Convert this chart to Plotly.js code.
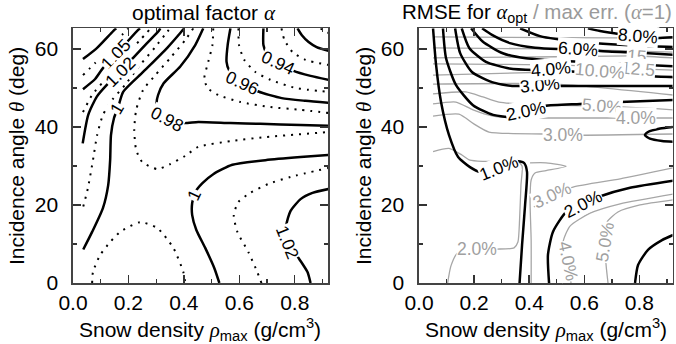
<!DOCTYPE html>
<html><head><meta charset="utf-8">
<script src="https://cdn.plot.ly/plotly-3.0.1.min.js"></script>
<style>html,body{margin:0;padding:0;background:#fff}</style>
</head><body><div id="c" style="width:676px;height:344px"></div>
<script>
// ---------- LEFT PANEL: optimal factor alpha (contour lines, [rho, theta]) ----------
const aS110 = [[0.036,57.4],[0.087,60.3],[0.145,64.6],[0.156,65.3]];
const aD107 = [[0.036,53.3],[0.080,56.4],[0.127,59.7],[0.177,63.6],[0.199,65.3]];
const aS105 = [[0.036,49.7],[0.080,52.3],[0.108,55.1],[0.156,58.6],[0.199,62.1],[0.235,64.9],[0.242,65.3]];
const aD103 = [[0.036,43.8],[0.069,48.2],[0.108,51.5],[0.152,54.9],[0.199,59.0],[0.242,62.3],[0.278,65.1]];
const aS102 = [[0.035,35.8],[0.055,43.1],[0.086,47.8],[0.122,50.8],[0.170,54.2],[0.218,57.8],[0.267,61.5],[0.309,64.6],[0.315,65.3]];
const aD101 = [[0.037,19.6],[0.054,24.4],[0.072,31.5],[0.087,37.9],[0.108,43.1],[0.141,46.9],[0.188,50.8],[0.242,55.9],[0.297,60.5],[0.340,64.4],[0.351,65.3]];
const aS100 = [[0.037,8.6],[0.069,13.1],[0.108,19.2],[0.127,25.1],[0.134,31.5],[0.137,37.9],[0.148,42.3],[0.163,45.1],[0.181,49.0],[0.253,54.1],[0.340,60.3],[0.387,64.1],[0.401,65.3]];
const aD099 = [[0.434,65.3],[0.405,62.3],[0.351,57.7],[0.297,53.3],[0.253,49.5],[0.228,44.4],[0.221,39.2],[0.228,34.1],[0.250,31.0],[0.304,29.2],[0.351,30.5],[0.405,32.6],[0.452,34.9],[0.571,36.4],[0.694,37.4],[0.922,38.7]];
const aS098 = [[0.470,65.3],[0.441,61.0],[0.387,55.5],[0.327,51.2],[0.307,48.2],[0.302,46.1],[0.322,43.6],[0.351,42.1],[0.398,41.0],[0.452,41.3],[0.568,41.0],[0.676,40.8],[0.821,40.5],[0.922,40.3]];
const aD097 = [[0.506,65.3],[0.503,61.0],[0.488,56.7],[0.474,52.6],[0.485,50.0],[0.524,48.2],[0.604,46.4],[0.712,45.1],[0.821,44.4],[0.922,43.6]];
const aS096 = [[0.568,65.3],[0.558,61.0],[0.554,56.7],[0.563,54.6],[0.608,51.5],[0.669,49.1],[0.753,47.4],[0.839,46.7],[0.922,46.2]];
const aD095 = [[0.597,65.3],[0.599,61.0],[0.618,57.2],[0.658,54.1],[0.712,52.1],[0.803,50.0],[0.922,49.0]];
const aS094 = [[0.687,65.3],[0.687,61.0],[0.698,59.0],[0.741,56.7],[0.796,54.4],[0.857,53.1],[0.922,52.1]];
const aD093 = [[0.752,65.3],[0.763,62.3],[0.792,59.2],[0.839,57.2],[0.922,55.9]];
const aS092 = [[0.810,65.3],[0.825,63.6],[0.850,61.8],[0.879,60.5],[0.922,59.5]];
const aD091 = [[0.893,65.3],[0.922,64.1]];
const aD099low = [[0.069,0],[0.072,2.8],[0.098,7.2],[0.134,10.5],[0.170,13.1],[0.242,15.6],[0.304,14.1],[0.362,9.0],[0.398,2.8],[0.405,0]];
const aS100r = [[0.528,0],[0.510,3.8],[0.477,9.0],[0.445,13.6],[0.430,17.4],[0.430,20.5],[0.441,23.3],[0.467,25.6],[0.506,27.9],[0.575,30.3],[0.694,31.5],[0.821,32.3],[0.922,32.8]];
const aD101r = [[0.680,0],[0.665,2.8],[0.633,7.9],[0.593,13.1],[0.580,17.4],[0.597,20.8],[0.640,23.1],[0.705,25.4],[0.785,27.2],[0.922,29.5]];
const aS102r = [[0.857,0],[0.846,2.8],[0.814,6.4],[0.778,10.5],[0.770,14.9],[0.785,18.5],[0.821,21.5],[0.864,23.1],[0.922,24.1]];
// labels: [text, rho, theta, angle]
const aLabels = [["1.05",0.156,58.6,-47],["1.02",0.170,54.2,-45],["1",0.160,44.8,-60],["0.98",0.338,42.0,28],
  ["0.96",0.610,51.2,25],["0.94",0.741,56.4,25],["1",0.437,22.6,-65],["1.02",0.774,10.6,68]];

// ---------- RIGHT PANEL: RMSE for alpha_opt (black) / max err alpha=1 (gray) ----------
const r1 = [[0.051,65.3],[0.062,55.9],[0.080,46.4],[0.109,37.9],[0.142,32.3],[0.185,29.7],[0.221,28.5],[0.290,29.5],[0.352,31.3],[0.381,30.8],[0.392,28.5],[0.385,20.0],[0.374,9.7],[0.365,0]];
const r2 = [[0.087,65.3],[0.098,57.7],[0.134,50.8],[0.196,45.6],[0.269,43.1],[0.338,42.6],[0.388,44.1],[0.457,45.4],[0.584,45.9],[0.730,46.4],[0.922,46.9]];
const r3 = [[0.131,65.3],[0.149,59.0],[0.192,54.1],[0.265,51.5],[0.338,50.5],[0.439,50.8],[0.530,50.5],[0.730,50.5],[0.922,50.5]];
const r4 = [[0.155,65.3],[0.183,60.2],[0.243,56.7],[0.328,55.0],[0.419,54.6],[0.494,54.6],[0.574,54.1],[0.701,53.3],[0.922,52.8]];
const r5 = [[0.189,65.3],[0.231,61.9],[0.304,58.9],[0.388,57.6],[0.461,57.2],[0.584,56.7],[0.730,56.2],[0.922,55.6]];
const r6 = [[0.229,65.3],[0.265,63.6],[0.330,61.5],[0.421,60.3],[0.505,60.0],[0.577,60.0],[0.657,59.5],[0.802,59.0],[0.922,58.5]];
const r7 = [[0.367,65.3],[0.439,63.3],[0.584,61.8],[0.802,60.8],[0.922,60.5]];
const r8 = [[0.613,65.3],[0.657,64.6],[0.730,63.8],[0.795,63.3],[0.860,62.8],[0.922,63.0]];
const rLoop = [[0.922,40.0],[0.875,39.6],[0.831,38.7],[0.820,37.9],[0.838,37.0],[0.882,36.4],[0.922,36.2]];
const r2low = [[0.472,0],[0.468,7.2],[0.486,13.1],[0.534,18.2],[0.595,20.3],[0.653,22.1],[0.766,24.4],[0.922,26.2]];
const r3low = [[0.784,0],[0.795,4.6],[0.831,8.5],[0.882,11.0],[0.922,12.3]];
const g20 = [[0.051,63.1],[0.5,62.9],[0.922,62.8]];
const g17 = [[0.051,60.3],[0.5,60.0],[0.922,59.2]];
const g15 = [[0.051,57.7],[0.5,58.0],[0.788,58.2],[0.922,57.7]];
const g12 = [[0.051,56.2],[0.5,55.9],[0.795,54.9],[0.922,54.6]];
const g10 = [[0.051,53.3],[0.5,54.1],[0.657,54.4],[0.802,53.3],[0.922,52.6]];
const g7 = [[0.051,51.0],[0.5,51.0],[0.922,48.2]];
const g5 = [[0.051,48.5],[0.170,49.0],[0.232,47.7],[0.290,46.4],[0.461,45.6],[0.664,45.4],[0.922,44.4]];
const g4 = [[0.051,45.9],[0.134,46.4],[0.196,44.4],[0.269,42.8],[0.352,42.3],[0.461,42.3],[0.788,42.3],[0.922,42.3]];
const g3 = [[0.051,42.8],[0.145,43.3],[0.199,40.8],[0.254,38.7],[0.461,38.2],[0.523,37.9],[0.922,38.2]];
const g2 = [[0.051,33.7],[0.109,34.5],[0.156,32.8],[0.185,31.5],[0.232,31.2],[0.356,31.2],[0.374,30.0],[0.370,25.1],[0.365,16.2],[0.359,10.5],[0.345,9.0],[0.283,8.7],[0.211,8.7],[0.142,7.9],[0.116,4.4],[0.104,0]];
const gLoop = [[0.407,0],[0.407,11.0],[0.403,21.3],[0.407,26.4],[0.421,28.2],[0.461,28.8],[0.534,29.9],[0.461,30.8],[0.403,30.8]];
const g3low = [[0.417,19.5],[0.483,22.6],[0.559,24.6],[0.730,26.7],[0.922,29.5]];
const g4low = [[0.552,0],[0.541,3.3],[0.534,6.2],[0.523,10.5],[0.548,14.6],[0.621,17.9],[0.730,20.3],[0.922,22.8]];
const g5low = [[0.686,0],[0.679,4.6],[0.675,10.5],[0.682,15.6],[0.722,18.2],[0.802,20.0],[0.922,21.3]];
const rLabels = [["1.0%",0.290,29.4,-22],["2.0%",0.388,44.1,-12],["3.0%",0.439,50.8,-5],["4.0%",0.480,54.8,-5],
  ["6.0%",0.577,60.0,4],["8.0%",0.795,63.3,5],["2.0%",0.595,20.3,-27]];
const gLabels = [["15",0.788,58.2,5],["12.5",0.795,54.9,5],["10.0%",0.657,54.4,5],["5.0%",0.664,45.4,5],
  ["4.0%",0.788,42.3,0],["3.0%",0.523,37.9,0],["3.0%",0.483,22.6,-25],["2.0%",0.211,8.7,0],["4.0%",0.541,5.6,78],["5.0%",0.675,10.5,-80]];
const xTicks = [0.0,0.2,0.4,0.6,0.8];
const xTickText = ["0.0","0.2","0.4","0.6","0.8"];
const yTicks = [0,20,40,60];

const FONT = "Liberation Sans, Arial, Helvetica, sans-serif";
const SOLID = {color:"#000", width:2.5};
const DOT = {color:"#000", width:2, dash:"2px,6px"};
const GRAY = {color:"#a6a6a6", width:1.3};
const traces = [];
function add(pts, line, right){
  traces.push({type:"scatter", mode:"lines", x:pts.map(p=>p[0]), y:pts.map(p=>p[1]),
    xaxis: right?"x2":"x", yaxis: right?"y2":"y", line:Object.assign({shape:"spline", smoothing:0.6}, line),
    hoverinfo:"skip", showlegend:false});
}
[aD107,aD103,aD101,aD099,aD097,aD095,aD093,aD091,aD099low,aD101r].forEach(p=>add(p,DOT,false));
[aS110,aS105,aS102,aS100,aS098,aS096,aS094,aS092,aS100r,aS102r].forEach(p=>add(p,SOLID,false));
[g20,g17,g15,g12,g10,g7,g5,g4,g3,g2,gLoop,g3low,g4low,g5low].forEach(p=>add(p,GRAY,true));
[r1,r2,r3,r4,r5,r6,r7,r8,rLoop,r2low,r3low].forEach(p=>add(p,SOLID,true));

const ann = [];
function lab(arr, right, color){
  arr.forEach(a=>ann.push({text:a[0], x:a[1], y:a[2], textangle:a[3], xref:right?"x2":"x", yref:right?"y2":"y",
    showarrow:false, font:{family:FONT, size:17.5, color:color}, bgcolor:"#fff", borderpad:0}));
}
lab(aLabels,false,"#000"); lab(gLabels,true,"#a0a0a0"); lab(rLabels,true,"#000");
const P = (px,py)=>({x:px/676, y:1-py/344});
function ptxt(text, px, py, angle, size){
  const p = P(px,py);
  ann.push({text:text, x:p.x, y:p.y, xref:"paper", yref:"paper", showarrow:false, textangle:angle||0,
    xanchor:"center", yanchor:"middle", font:{family:FONT, size:size||21, color:"#000"}});
}
const GA = '<span style="font-family:Liberation Serif,serif;font-style:italic">α</span>';
const TH = '<span style="font-family:Liberation Serif,serif;font-style:italic">θ</span>';
const RHO = '<span style="font-family:Liberation Serif,serif;font-style:italic">ρ</span>';
ptxt("optimal factor "+GA, 204, 13, 0, 21);
ptxt("RMSE for "+GA+"<sub>opt</sub><span style=\"color:#9a9a9a\"> / max err. ("+GA+"=1)</span>", 537, 13, 0, 20.5);
ptxt("Snow density "+RHO+"<sub>max</sub> (g/cm<sup>3</sup>)", 200, 329);
ptxt("Snow density "+RHO+"<sub>max</sub> (g/cm<sup>3</sup>)", 546, 329);
ptxt("Incidence angle "+TH+" (deg)", 17, 156, -90);
ptxt("Incidence angle "+TH+" (deg)", 364, 156, -90);

function xax(dom){ return {domain:dom, range:[0,0.92], tickmode:"array", tickvals:xTicks, ticktext:xTickText, ticks:"inside", ticklen:8, tickwidth:1.5,
  tickcolor:"#333", showline:true, linecolor:"#444", linewidth:1.7, mirror:"ticks", showgrid:false, zeroline:false,
  tickfont:{family:FONT, size:21, color:"#000"}, ticklabelstandoff:0,
  minor:{ticks:"inside", dtick:0.1, tick0:0, ticklen:4, tickwidth:1.3, tickcolor:"#333", showgrid:false}, fixedrange:true}; }
function yax(dom, anchor){ return {domain:dom, range:[0,65.3], tickmode:"array", tickvals:yTicks, ticks:"inside", ticklen:8, tickwidth:1.5,
  tickcolor:"#333", showline:true, linecolor:"#444", linewidth:1.7, mirror:"ticks", showgrid:false, zeroline:false,
  tickfont:{family:FONT, size:21, color:"#000"}, ticklabelstandoff:9, anchor:anchor,
  minor:{ticks:"inside", dtick:10, tick0:0, ticklen:4, tickwidth:1.3, tickcolor:"#333", showgrid:false}, fixedrange:true}; }
const ydom = [1-283/344, 1-28.3/344];
const xa1 = xax([73/676, 328/676]); xa1.anchor = "y";
const xa2 = xax([419/676, 672.5/676]); xa2.anchor = "y2";
const layout = {width:676, height:344, margin:{l:0,r:0,t:0,b:0}, paper_bgcolor:"#fff", plot_bgcolor:"#fff",
  xaxis:xa1, yaxis:yax(ydom,"x"), xaxis2:xa2, yaxis2:yax(ydom,"x2"), annotations:ann, showlegend:false};
Plotly.newPlot("c", traces, layout, {staticPlot:true, displayModeBar:false});
</script></body></html>
